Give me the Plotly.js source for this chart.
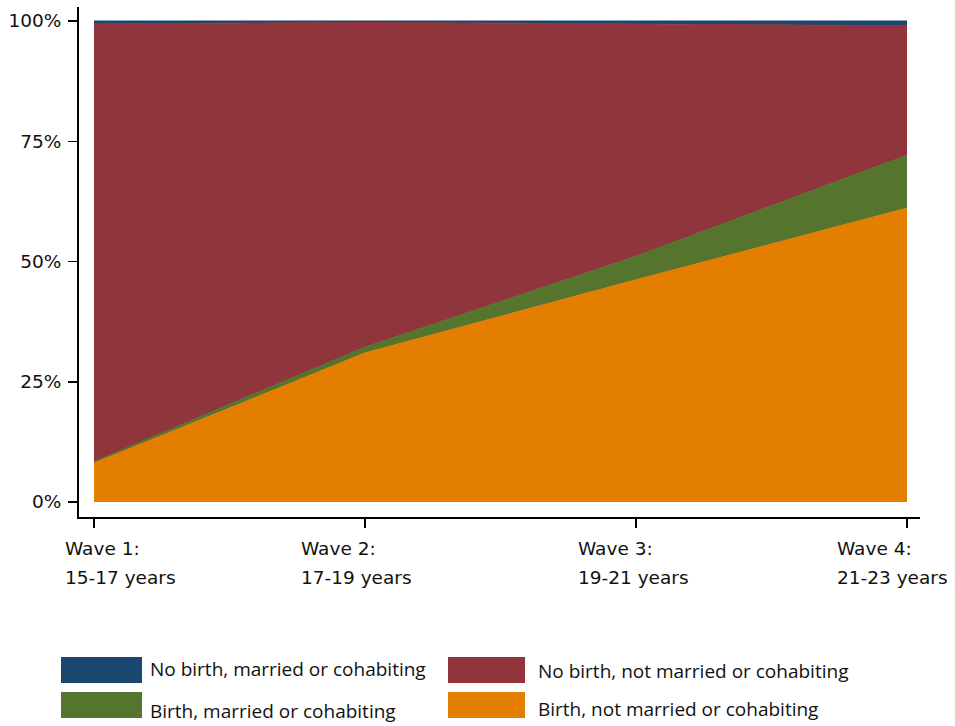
<!DOCTYPE html>
<html><head><meta charset="utf-8">
<script src="https://cdn.plot.ly/plotly-3.0.1.min.js"></script>
<style>html,body{margin:0;padding:0;background:#fff}</style>
</head><body><div id="chart" style="width:955px;height:726px"></div>
<script>
// ---- data ----
const waves = [1, 2, 3, 4];
const waveLine1 = ["Wave 1:", "Wave 2:", "Wave 3:", "Wave 4:"];
const waveLine2 = ["15-17 years", "17-19 years", "19-21 years", "21-23 years"];
const seriesNames = ["Birth, not married or cohabiting", "Birth, married or cohabiting",
                     "No birth, not married or cohabiting", "No birth, married or cohabiting"];
const birthNotMarried   = [8.1, 31.0, 46.2, 61.1];
const birthMarried      = [0.3, 1.2, 4.9, 11.0];
const noBirthNotMarried = [91.0, 67.5, 48.3, 26.9];
const noBirthMarried    = [0.6, 0.3, 0.6, 1.0];
const yTicks = [0, 25, 50, 75, 100];
const yTickText = ["0%", "25%", "50%", "75%", "100%"];

// ---- styles ----
const colors = ["#e37e00", "#55752f", "#90353b", "#1a476f"];
const seriesValues = [birthNotMarried, birthMarried, noBirthNotMarried, noBirthMarried];
const labelShift = [-31, -66, -60, -72];
const W = 955, H = 726;
const M = {l: 79, r: 35, t: 7, b: 209};
const pw = W - M.l - M.r, ph = H - M.t - M.b;
const px = x => (x - M.l) / pw;
const py = y => (H - M.b - y) / ph;

const traces = seriesValues.map((vals, i) => ({
  x: waves, y: vals, name: seriesNames[i], type: 'scatter', mode: 'lines',
  stackgroup: 'one', fill: 'tonexty', fillcolor: colors[i],
  line: {color: colors[i], width: 1}, hoverinfo: 'skip', showlegend: false
}));

const annotations = [];
waves.forEach((w, i) => {
  annotations.push({xref: 'x', yref: 'paper', x: w, y: 0, xanchor: 'left', yanchor: 'middle',
    xshift: labelShift[i], yshift: -31, text: waveLine1[i], showarrow: false, align: 'left',
    font: {family: 'DejaVu Sans', size: 18.5, color: '#111'}});
  annotations.push({xref: 'x', yref: 'paper', x: w, y: 0, xanchor: 'left', yanchor: 'middle',
    xshift: labelShift[i], yshift: -60, text: waveLine2[i], showarrow: false, align: 'left',
    font: {family: 'DejaVu Sans', size: 18.5, color: '#111'}});
});

// legend (custom, 2 columns): order [blue, red, green, orange]
const legendOrder = [3, 2, 1, 0];
const legBox = [[61, 142, 657, 683], [448, 525, 657, 683], [61, 142, 692, 718], [448, 525, 692, 718]];
const legText = [[148, 669], [536, 671], [148, 711], [536, 709]];
const shapes = [];
legendOrder.forEach((s, k) => {
  const b = legBox[k];
  shapes.push({type: 'rect', xref: 'paper', yref: 'paper', x0: px(b[0]), x1: px(b[1]),
    y0: py(b[3]), y1: py(b[2]), fillcolor: colors[s], line: {width: 0}});
  annotations.push({xref: 'paper', yref: 'paper', x: px(legText[k][0]), y: py(legText[k][1]),
    xanchor: 'left', yanchor: 'middle', text: seriesNames[s], showarrow: false,
    font: {family: 'Open Sans', size: 19, color: '#111'}});
});

const layout = {
  width: W, height: H, margin: M, paper_bgcolor: '#fff', plot_bgcolor: '#fff',
  showlegend: false,
  xaxis: {range: [1 - 15 / 271, 4 + 13 / 271], tickvals: waves, showticklabels: false,
    ticks: 'outside', ticklen: 9, tickwidth: 1.5, tickcolor: '#000',
    showline: true, linecolor: '#000', linewidth: 2, showgrid: false, zeroline: false, fixedrange: true},
  yaxis: {range: [-15 / 4.81, 100 + 14 / 4.81], tickmode: 'array', tickvals: yTicks, ticktext: yTickText,
    ticks: 'outside', ticklen: 9, tickwidth: 1.5, tickcolor: '#000', ticklabelstandoff: 3,
    tickfont: {family: 'DejaVu Sans', size: 18.5, color: '#111'},
    showline: true, linecolor: '#000', linewidth: 2, showgrid: false, zeroline: false, fixedrange: true},
  annotations: annotations, shapes: shapes
};
Plotly.newPlot('chart', traces, layout, {staticPlot: true, displayModeBar: false});
</script></body></html>
